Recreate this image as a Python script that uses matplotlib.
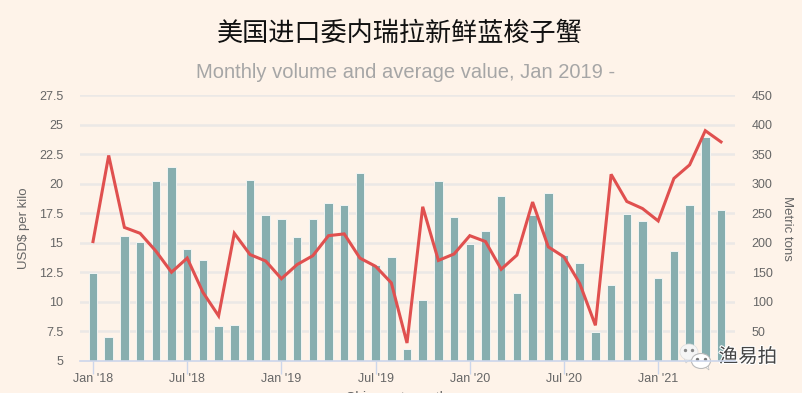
import matplotlib
matplotlib.use("Agg")
import matplotlib.pyplot as plt
import matplotlib.patheffects as pe
from matplotlib.patches import Ellipse, Polygon

# monthly data, Jan 2018 - May 2021
months = list(range(41))
volume = [148, 41, 211, 202, 305, 329, 190, 171, 58, 60, 306, 247, 241, 209, 241,
          268, 264, 318, 162, 176, 20, 103, 305, 243, 198, 220, 280, 114, 247, 285,
          180, 166, 49, 129, 249, 237, 141, 186, 264, 379, 255]
price = [15.1, 22.4, 16.3, 15.8, 14.3, 12.5, 13.7, 10.8, 8.8, 15.8, 14.0, 13.45,
         11.95, 13.15, 13.9, 15.6, 15.75, 13.7, 13.0, 11.6, 6.5, 18.05, 13.5, 14.05,
         15.6, 15.1, 12.75, 13.95, 18.45, 14.65, 13.8, 11.55, 8.0, 20.8, 18.5, 17.9,
         16.85, 20.45, 21.6, 24.5, 23.55]
tick_pos = [0, 6, 12, 18, 24, 30, 36]
tick_labels = ["Jan '18", "Jul '18", "Jan '19", "Jul '19", "Jan '20", "Jul '20", "Jan '21"]
left_ticks = [5, 7.5, 10, 12.5, 15, 17.5, 20, 22.5, 25, 27.5]
left_labels = ["5", "7.5", "10", "12.5", "15", "17.5", "20", "22.5", "25", "27.5"]
right_ticks = [50, 100, 150, 200, 250, 300, 350, 400, 450]

W, H = 803, 393
bg = "#fef3e9"
text_col = "#666666"

plt.rcParams["font.family"] = ["Liberation Sans", "Noto Sans CJK SC", "DejaVu Sans"]

fig = plt.figure(figsize=(W / 100, H / 100), dpi=100, facecolor=bg)
ax = fig.add_axes([80 / W, 1 - 360.7 / H, 655 / W, 265.4 / H])

# axes: bars on the right scale, line on the left scale
ax2 = ax.twinx()
ax.set_zorder(ax2.get_zorder() + 1)
ax.patch.set_visible(False)
ax2.patch.set_visible(True)
ax2.set_facecolor(bg)

# x limits so month 0 is at px 93 and month 40 at px 721
px_month = (721 - 93) / 40
ax.set_xlim(-(93 - 80) / px_month, 40 + (735 - 721) / px_month)
ax.set_ylim(5, 27.5)
ax2.set_ylim(0, 450)

for t in left_ticks[1:]:
    ax2.axhline((t - 5) * 20, color="#ebe8e6", lw=1.8, zorder=1)

ax2.bar(months, volume, width=0.54, color="#87aeaf", edgecolor="#f2f5f3", linewidth=0.7, zorder=2)
ax.plot(months, price, color="#e0504f", lw=2.2, zorder=3, solid_joinstyle="miter")

ax.set_xticks(tick_pos)
ax.set_xticklabels(tick_labels)
ax.set_yticks(left_ticks)
ax.set_yticklabels(left_labels)
ax2.set_yticks(right_ticks)

ax.tick_params(axis="x", colors=text_col, labelsize=9, length=9, width=1, color="#ccd6eb", pad=0)
ax.tick_params(axis="y", colors=text_col, labelsize=9, length=0, pad=12)
ax2.tick_params(axis="y", colors=text_col, labelsize=9, length=0, pad=12)

for a in (ax, ax2):
    for s in a.spines.values():
        s.set_visible(False)
ax.spines["bottom"].set_visible(True)
ax.spines["bottom"].set_color("#ccd6eb")
ax.spines["bottom"].set_linewidth(1.2)

fig.text(24 / W, 1 - 228 / H, "USD$ per kilo", rotation=90, ha="center", va="center",
         fontsize=9.5, color=text_col)
fig.text(787 / W, 1 - 228 / H, "Metric tons", rotation=270, ha="center", va="center",
         fontsize=9.5, color=text_col)
# the reference cuts this title off at the bottom edge
fig.text(397 / W, 1 - 398 / H, "Shipment month", ha="center", va="center", fontsize=10, color=text_col)

fig.text(400 / W, 1 - 34 / H, "美国进口委内瑞拉新鲜蓝梭子蟹", ha="center", va="center",
         fontsize=18.8, color="#111111")
fig.text(406 / W, 1 - 72 / H, "Monthly volume and average value, Jan 2019 -", ha="center", va="center",
         fontsize=14.5, color="#a6a6a6")

# watermark: wechat style bubbles and name
ov = fig.add_axes([0, 0, 1, 1], facecolor="none")
ov.set_xlim(0, W)
ov.set_ylim(H, 0)
ov.axis("off")
ov.add_patch(Polygon([[684, 358], [686, 363], [690, 359]], fc="#f5f5f5", ec="#cccccc", lw=0.5))
ov.add_patch(Ellipse((689, 352), 18, 16, fc="#f5f5f5", ec="#dddddd", lw=0.5))
ov.add_patch(Polygon([[704, 366], [709, 370], [708, 363]], fc="#ffffff", ec="#bbbbbb", lw=0.5))
ov.add_patch(Ellipse((701, 361), 19, 15, fc="#ffffff", ec="#bbbbbb", lw=0.8))
ov.plot([685, 692], [350, 350], ls="none", marker="o", ms=1.4, color="#888888")
ov.plot([697, 705], [359, 359], ls="none", marker="o", ms=1.4, color="#777777")
ov.text(748, 357, "渔易拍", ha="center", va="center", fontsize=14, color="#444444",
        path_effects=[pe.withStroke(linewidth=1.6, foreground="#ffffff")])

fig.savefig("out.png", dpi=100, facecolor=bg)
